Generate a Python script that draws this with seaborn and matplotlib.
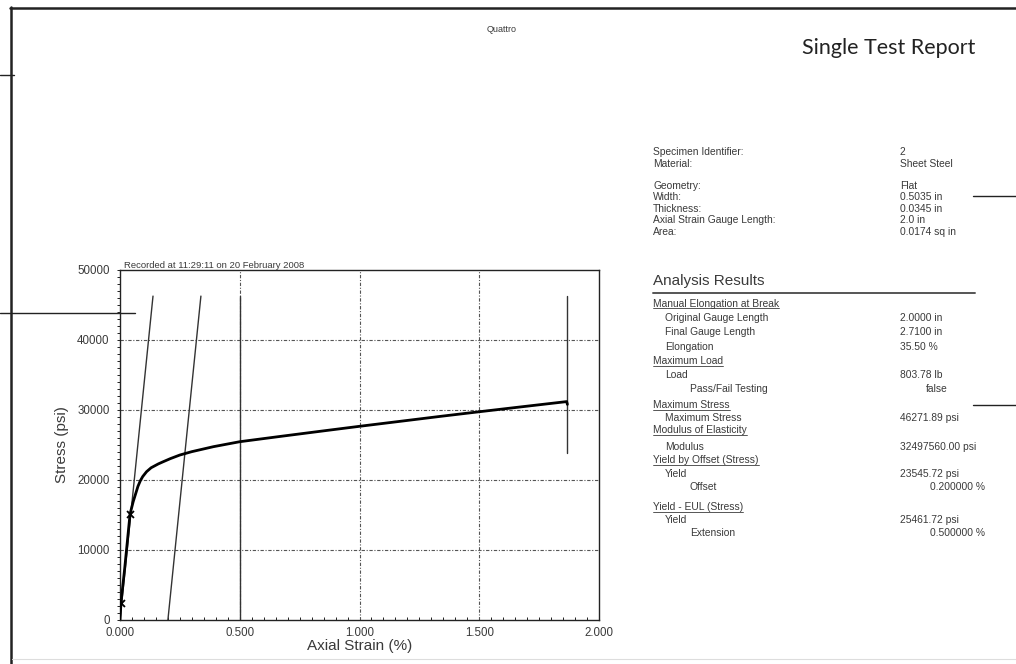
import numpy as np
import pandas as pd
import matplotlib
matplotlib.use("Agg")
import matplotlib.pyplot as plt
import seaborn as sns
from matplotlib.lines import Line2D
from matplotlib.ticker import MultipleLocator, FormatStrFormatter

# ---------------- data ----------------
strain = [0.0, 0.004, 0.020, 0.042, 0.055, 0.065, 0.075, 0.085, 0.095, 0.111, 0.13, 0.16,
          0.181, 0.21, 0.25, 0.30, 0.39, 0.50, 0.67, 0.85, 1.00, 1.20, 1.34, 1.49, 1.65,
          1.865, 1.868]
stress = [0, 2430, 7500, 15140, 16900, 18000, 19100, 19900, 20500, 21190, 21750, 22300,
          22620, 23050, 23570, 24050, 24760, 25470, 26230, 27020, 27670, 28510, 29100,
          29710, 30350, 31200, 30800]
marker_strain = [0.004, 0.042]
marker_stress = [2430, 15140]
modulus_strain = [0.0, 0.1378]
offset_strain = [0.200, 0.3378]
line_stress = [0, 46271.89]
eul_strain = [0.5, 0.5]
eul_stress = [0, 46271.89]
break_strain = [1.865, 1.865]
break_stress = [23800, 46271.89]

x_ticks = [0.0, 0.5, 1.0, 1.5, 2.0]
y_ticks = [0, 10000, 20000, 30000, 40000, 50000]

info_labels = ["Specimen Identifier:", "Material:", "Geometry:", "Width:", "Thickness:",
               "Axial Strain Gauge Length:", "Area:"]
info_values = ["2", "Sheet Steel", "Flat", "0.5035 in", "0.0345 in", "2.0 in", "0.0174 sq in"]

result_labels = ["Manual Elongation at Break", "Original Gauge Length", "Final Gauge Length",
                 "Elongation", "Maximum Load", "Load", "Pass/Fail Testing",
                 "Maximum Stress", "Maximum Stress", "Modulus of Elasticity", "Modulus",
                 "Yield by Offset (Stress)", "Yield", "Offset", "Yield - EUL (Stress)",
                 "Yield", "Extension"]
result_values = ["", "2.0000 in", "2.7100 in", "35.50 %", "", "803.78 lb", "false",
                 "", "46271.89 psi", "", "32497560.00 psi", "", "23545.72 psi", "0.200000 %",
                 "", "25461.72 psi", "0.500000 %"]
result_level = [0, 1, 1, 1, 0, 1, 2, 0, 1, 0, 1, 0, 1, 2, 0, 1, 2]

# ---------------- style ----------------
sns.set_theme(style="white")
plt.rcParams['font.family'] = ['Liberation Sans', 'DejaVu Sans']

W, H = 1016, 664
fig = plt.figure(figsize=(W / 100, H / 100), dpi=100)
fig.patch.set_facecolor("white")

def fx(x):
    return x / W

def fy(y):
    return 1 - y / H

ax = fig.add_axes([fx(120), fy(620), fx(599) - fx(120), fy(270) - fy(620)])

dark = "#222222"
txt = "#3a3a3a"
small = 7.4

# grid
grid_ls = (0, (3, 1.5, 1, 1.5))
for gx in [0.5, 1.0, 1.5]:
    ax.axvline(gx, color="#555555", lw=0.8, ls=grid_ls, zorder=1)
for gy in [10000, 20000, 30000, 40000]:
    ax.axhline(gy, color="#555555", lw=0.8, ls=grid_ls, zorder=1)

# construction lines
for xs, ys in [(modulus_strain, line_stress), (offset_strain, line_stress),
               (eul_strain, eul_stress), (break_strain, break_stress)]:
    sns.lineplot(x=xs, y=ys, ax=ax, color="#333333", lw=1.0,
                 sort=False, estimator=None, zorder=2)

# curve
df = pd.DataFrame({"strain": strain, "stress": stress})
sns.lineplot(data=df, x="strain", y="stress", ax=ax, color="black", lw=2.0,
             sort=False, estimator=None, zorder=3)
sns.scatterplot(x=marker_strain, y=marker_stress, ax=ax, marker="x", color="black",
                s=25, linewidth=1.3, zorder=4)

ax.set_xlim(0, 2.0)
ax.set_ylim(0, 50000)
ax.set_xticks(x_ticks)
ax.set_yticks(y_ticks)
ax.xaxis.set_major_formatter(FormatStrFormatter("%.3f"))
ax.xaxis.set_minor_locator(MultipleLocator(0.05))
ax.yaxis.set_minor_locator(MultipleLocator(1000))
ax.tick_params(axis="x", which="both", direction="in", length=2.5, width=0.7,
               colors=dark, labelcolor=txt, labelsize=8.3, pad=5, bottom=True)
ax.tick_params(axis="y", which="both", direction="out", length=2.5, width=0.7,
               colors=dark, labelcolor=txt, labelsize=8.3, pad=5, left=True)
for s in ax.spines.values():
    s.set_visible(True)
    s.set_color(dark)
    s.set_linewidth(1.0)
ax.set_xlabel("Axial Strain (%)", fontsize=11, color=txt, labelpad=0)
ax.set_ylabel("Stress (psi)", fontsize=11, color=txt, labelpad=6)
ax.grid(False)
fig.text(fx(124), fy(265), "Recorded at 11:29:11 on 20 February 2008", fontsize=6.8,
         color=txt, va="center", ha="left")

# ---------------- page furniture ----------------
def hline(x0, x1, y, lw=1.2, color=dark):
    fig.add_artist(Line2D([fx(x0), fx(x1)], [fy(y), fy(y)], transform=fig.transFigure,
                          color=color, lw=lw))

def vline(x, y0, y1, lw=1.2, color=dark):
    fig.add_artist(Line2D([fx(x), fx(x)], [fy(y0), fy(y1)], transform=fig.transFigure,
                          color=color, lw=lw))

hline(10, 1016, 7.5, lw=1.8)
vline(11, 7, 664, lw=1.8)
hline(0, 14, 75, lw=1.0)
hline(0, 135, 313, lw=1.0)
hline(973, 1016, 196, lw=1.0)
hline(973, 1016, 405, lw=1.0)
hline(12, 1016, 659, lw=0.8, color="#dddddd")

fig.text(fx(487), fy(29), "Quattro", fontsize=6.5, color=txt, va="center", ha="left")
fig.text(fx(975), fy(48), "Single Test Report", fontsize=15.5, color="#222222",
         va="center", ha="right", family=["Lato", "DejaVu Sans"])

info_y = [152, 164, 186, 197, 209, 220, 232]
for lab, val, yy in zip(info_labels, info_values, info_y):
    fig.text(fx(653), fy(yy), lab, fontsize=small, color=txt, va="center", ha="left")
    fig.text(fx(900), fy(yy), val, fontsize=small, color=txt, va="center", ha="left")

fig.text(fx(653), fy(281), "Analysis Results", fontsize=11, color=txt, va="center", ha="left")
hline(653, 975, 292.5, lw=1.4, color="#555555")

res_y = [304, 318, 332, 347, 361, 375, 389, 405, 418, 430, 447, 460, 474, 487, 507, 520, 533]
indent = {0: 653, 1: 665, 2: 690}
headers = []
for lab, val, lvl, yy in zip(result_labels, result_values, result_level, res_y):
    t = fig.text(fx(indent[lvl]), fy(yy), lab, fontsize=small, color=txt, va="center", ha="left")
    if lvl == 0:
        headers.append(t)
    if val:
        if lvl == 2:
            fig.text(fx(985 if "%" in val else 948), fy(yy), val, fontsize=small, color=txt,
                     va="center", ha="right")
        else:
            fig.text(fx(900), fy(yy), val, fontsize=small, color=txt, va="center", ha="left")

fig.canvas.draw()
r = fig.canvas.get_renderer()
for t in headers:
    bb = t.get_window_extent(r)
    y = bb.y0 + 0.5
    fig.add_artist(Line2D([bb.x0 / W, bb.x1 / W], [y / H, y / H], transform=fig.transFigure,
                          color=txt, lw=0.6))

fig.savefig("out.png", dpi=100, facecolor="white")
